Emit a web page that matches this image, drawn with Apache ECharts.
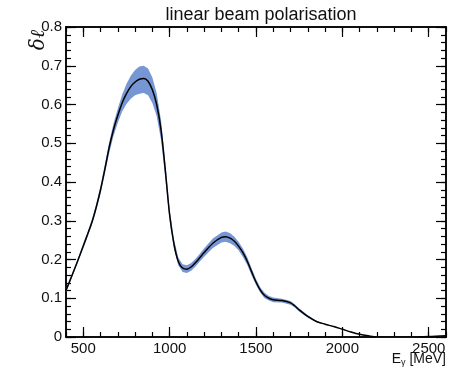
<!DOCTYPE html>
<html><head><meta charset="utf-8">
<script src="https://cdn.jsdelivr.net/npm/echarts@6/dist/echarts.min.js"></script>
<style>html,body{margin:0;padding:0;background:#fff}#c{width:449px;height:369px}</style>
</head><body><div id="c"></div>
<script>
const energy = [400,425,450,475,500,525,550,575,600,625,650,675,700,725,750,775,800,825,850,875,900,925,950,975,1000,1025,1050,1075,1100,1125,1150,1175,1200,1250,1300,1325,1350,1375,1400,1425,1450,1475,1500,1525,1550,1575,1600,1650,1700,1725,1750,1800,1850,1900,1950,2000,2050,2100,2150,2200,2300,2400,2500,2600];
const delta  = [0.120,0.148,0.176,0.205,0.235,0.265,0.296,0.335,0.380,0.433,0.489,0.535,0.572,0.604,0.628,0.646,0.658,0.665,0.667,0.660,0.638,0.600,0.535,0.430,0.315,0.240,0.195,0.178,0.175,0.181,0.192,0.205,0.218,0.242,0.257,0.259,0.255,0.247,0.234,0.217,0.195,0.168,0.142,0.121,0.107,0.100,0.096,0.094,0.088,0.080,0.070,0.053,0.040,0.033,0.027,0.020,0.013,0.007,0.003,0.000,0.000,0.000,0.001,0.003];
const errUp  = [0.004,0.004,0.005,0.005,0.006,0.006,0.007,0.008,0.010,0.012,0.014,0.016,0.018,0.021,0.025,0.028,0.031,0.033,0.033,0.033,0.032,0.029,0.025,0.020,0.015,0.012,0.010,0.010,0.010,0.010,0.010,0.010,0.011,0.012,0.013,0.013,0.013,0.012,0.011,0.011,0.010,0.009,0.008,0.007,0.007,0.006,0.006,0.005,0.005,0.004,0.004,0.003,0.002,0.001,0.001,0.0005,0.0005,0.0005,0.0005,0.0005,0.0005,0.0005,0.0005,0.0005];
const errDn  = [0.004,0.004,0.005,0.005,0.006,0.006,0.007,0.008,0.010,0.012,0.014,0.016,0.019,0.022,0.027,0.031,0.034,0.037,0.037,0.036,0.034,0.030,0.026,0.020,0.015,0.012,0.010,0.010,0.010,0.010,0.010,0.010,0.011,0.012,0.013,0.013,0.013,0.012,0.011,0.011,0.010,0.009,0.008,0.007,0.007,0.006,0.006,0.005,0.005,0.004,0.004,0.003,0.002,0.001,0.001,0.0005,0.0005,0.0005,0.0005,0.0005,0.0005,0.0005,0.0005,0.0005];
const xMajor = [500,1000,1500,2000,2500];
const yMajor = [0,0.1,0.2,0.3,0.4,0.5,0.6,0.7,0.8];
const titleText = 'linear beam polarisation';

const center = energy.map((e,i)=>[e, delta[i]]);

const FONT = 'Liberation Sans';
const axisLine = {show:true, onZero:false, lineStyle:{color:'#000', width:1.5}};
function xAx(pos, major, labels){
  return {type:'value', position:pos, min:400, max:2600, interval:100,
    axisLine:axisLine, splitLine:{show:false},
    axisTick:{show:true, inside:true, length: major?10:5, lineStyle:{color:'#000',width:1.2},
      customValues: major ? xMajor : undefined},
    axisLabel:{show:labels, customValues: labels ? xMajor : undefined, fontFamily:FONT, fontSize:15, color:'#111', margin:4,
      formatter: v => String(Math.round(v))}};
}
function yAx(pos, major, labels){
  return {type:'value', position:pos, min:0, max:0.8, interval: 0.02,
    axisLine:axisLine, splitLine:{show:false},
    axisTick:{show:true, inside:true, length: major?10:5, lineStyle:{color:'#000',width:1.2},
      customValues: major ? yMajor : undefined},
    axisLabel:{show:labels, customValues: labels ? yMajor : undefined, fontFamily:FONT, fontSize:15, color:'#111', margin:4,
      formatter: v => String(Math.round(v*10)/10)}};
}
const chart = echarts.init(document.getElementById('c'), null, {renderer:'canvas'});
chart.setOption({
  animation:false,
  title:{text:titleText, left:256, top:1, textAlign:'center',
    textStyle:{fontFamily:FONT, fontWeight:'normal', fontSize:18, color:'#111'}},
  grid:{left:66, right:3, top:27, bottom:32, containLabel:false},
  xAxis:[xAx('bottom',false,false), xAx('bottom',true,true), xAx('top',false,false), xAx('top',true,false)],
  yAxis:[yAx('left',false,false), yAx('left',true,true), yAx('right',false,false), yAx('right',true,false)],
  graphic:[
    {type:'text', left:29, top:30, rotation:Math.PI/2, style:{text:'δℓ', font:'italic 20px "DejaVu Serif"', fill:'#111'}},
    {type:'text', right:3, top:352, style:{text:'{n|E}{s|γ}{n| [MeV]}', rich:{n:{fontFamily:FONT,fontSize:14,fill:'#111'}, s:{fontFamily:FONT,fontSize:9,fill:'#111',padding:[8,0,0,0]}}}}
  ],
  series:[
    {type:'custom', data:[[0]], silent:true, z:3,
      renderItem:function(params, api){
        const pts = [];
        for (let i=0;i<energy.length;i++) pts.push(api.coord([energy[i], delta[i]+errUp[i]]));
        for (let i=energy.length-1;i>=0;i--) pts.push(api.coord([energy[i], delta[i]-errDn[i]]));
        return {type:'polygon', shape:{points:pts}, style:{fill:'#7796d4', stroke:null}};
      }},
    {type:'line', data:center, symbol:'none', smooth:0.3, lineStyle:{color:'#000', width:1.5}, z:5}
  ]
});
</script></body></html>
